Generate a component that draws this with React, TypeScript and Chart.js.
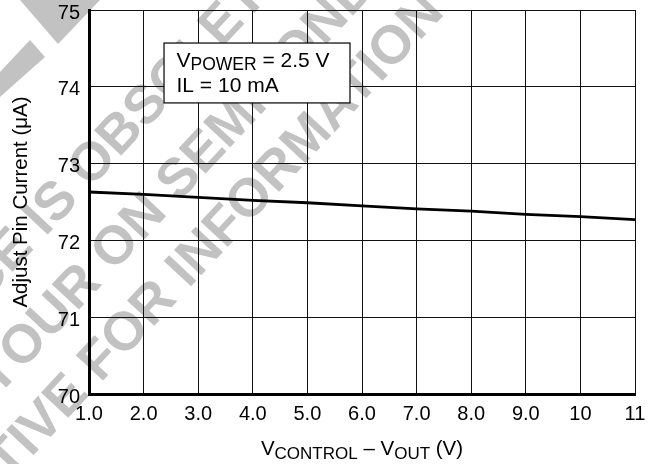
import React, { useEffect, useRef } from "react";
import { Chart, registerables } from "chart.js";

Chart.register(...registerables);

// ---- data ----
const xValues = [1, 2, 3, 4, 5, 6, 7, 8, 9, 10, 11];
const currentValues = [72.63, 72.6, 72.56, 72.52, 72.49, 72.45, 72.41, 72.38, 72.34, 72.31, 72.27];
const xTickLabels = ["1.0", "2.0", "3.0", "4.0", "5.0", "6.0", "7.0", "8.0", "9.0", "10", "11"];
const yTickLabels = ["70", "71", "72", "73", "74", "75"];
const yAxisTitle = "Adjust Pin Current (\u03bcA)";
const xTitleParts = [
  { t: "V", sub: false },
  { t: "CONTROL", sub: true },
  { t: " \u2013 V", sub: false },
  { t: "OUT", sub: true },
  { t: " (V)", sub: false },
];
const noteLine1 = [
  { t: "V", sub: false },
  { t: "POWER", sub: true },
  { t: " = 2.5 V", sub: false },
];
const noteLine2 = [{ t: "IL = 10 mA", sub: false }];
const watermarkLines = [
  "THIS DEVICE IS OBSOLETE",
  "PLEASE CONTACT YOUR ON SEMICONDUCTOR",
  "REPRESENTATIVE FOR INFORMATION",
];

const FAMILY = '"Liberation Sans", Arial, Helvetica, sans-serif';

type Part = { t: string; sub: boolean };

function drawParts(ctx: CanvasRenderingContext2D, parts: Part[], x: number, y: number, main: number, sub: number, align: "left" | "center") {
  let total = 0;
  const widths = parts.map((p) => {
    ctx.font = `${p.sub ? sub : main}px ${FAMILY}`;
    const w = ctx.measureText(p.t).width;
    total += w;
    return w;
  });
  let cx = align === "center" ? x - total / 2 : x;
  ctx.textAlign = "left";
  ctx.textBaseline = "alphabetic";
  parts.forEach((p, i) => {
    ctx.font = `${p.sub ? sub : main}px ${FAMILY}`;
    ctx.fillText(p.t, cx, p.sub ? y + 3.5 : y);
    cx += widths[i];
  });
}

const watermarkPlugin = {
  id: "watermark",
  beforeDraw(chart: any) {
    const ctx: CanvasRenderingContext2D = chart.ctx;
    ctx.save();
    ctx.fillStyle = "#c2c2c2";
    // corner fragments
    ctx.beginPath();
    ctx.moveTo(20, 0);
    ctx.lineTo(100, 0);
    ctx.lineTo(58, 44);
    ctx.closePath();
    ctx.fill();
    ctx.beginPath();
    ctx.moveTo(30, 40);
    ctx.lineTo(45, 57);
    ctx.lineTo(0, 97);
    ctx.lineTo(0, 72);
    ctx.closePath();
    ctx.fill();

    ctx.font = `bold 54px ${FAMILY}`;
    ctx.textBaseline = "middle";
    ctx.textAlign = "left";
    ctx.translate(130, 233);
    ctx.rotate((-47 * Math.PI) / 180);
    const specs = [
      { line: 0, prefix: "THIS DEVICE I", word: "S", s: -28, t: -74 },
      { line: 1, prefix: "PLEASE CONTACT YOUR ", word: "ON", s: 0, t: 0 },
      { line: 2, prefix: "REPRESENTATIVE ", word: "FOR", s: -73, t: 66 },
    ];
    specs.forEach((sp) => {
      const start = sp.s - ctx.measureText(sp.prefix).width - ctx.measureText(sp.word).width / 2;
      ctx.fillText(watermarkLines[sp.line], start, sp.t);
    });
    ctx.restore();
  },
};

const annotationPlugin = {
  id: "annotations",
  afterDraw(chart: any) {
    const ctx: CanvasRenderingContext2D = chart.ctx;
    const xs = chart.scales.x;
    const ys = chart.scales.y;
    const area = chart.chartArea;
    ctx.save();
    // note box
    const bx1 = xs.getPixelForValue(2.374);
    const bx2 = xs.getPixelForValue(5.78);
    const by1 = ys.getPixelForValue(74.57);
    const by2 = ys.getPixelForValue(73.79);
    ctx.fillStyle = "#ffffff";
    ctx.fillRect(bx1, by1, bx2 - bx1, by2 - by1);
    ctx.strokeStyle = "#000";
    ctx.lineWidth = 1.2;
    ctx.strokeRect(bx1, by1, bx2 - bx1, by2 - by1);
    ctx.fillStyle = "#000";
    drawParts(ctx, noteLine1, bx1 + 12.5, by1 + 23.5, 21, 17.5, "left");
    drawParts(ctx, noteLine2, bx1 + 12.5, by1 + 48.5, 21, 17.5, "left");
    // x axis title
    drawParts(ctx, xTitleParts, (area.left + area.right) / 2, area.bottom + 61, 20.5, 17, "center");
    ctx.restore();
  },
};

export default function App() {
  const ref = useRef<HTMLCanvasElement | null>(null);
  useEffect(() => {
    if (!ref.current) return;
    Chart.defaults.font.family = FAMILY;
    const chart = new Chart(ref.current, {
      type: "line",
      data: {
        datasets: [
          {
            data: xValues.map((x, i) => ({ x, y: currentValues[i] })),
            borderColor: "#000",
            borderWidth: 2.8,
            pointRadius: 0,
            tension: 0,
            fill: false,
          },
        ],
      },
      options: {
        animation: false,
        responsive: true,
        maintainAspectRatio: false,
        layout: { padding: { top: 10, right: 23, left: 0, bottom: 0 } },
        plugins: { legend: { display: false }, tooltip: { enabled: false } },
        scales: {
          x: {
            type: "linear",
            min: 1,
            max: 11,
            afterFit: (s: any) => {
              s.height = 70;
              s.paddingLeft = 0;
              s.paddingRight = 0;
            },
            ticks: {
              stepSize: 1,
              autoSkip: false,
              maxRotation: 0,
              padding: 8,
              color: "#000",
              font: { size: 20 },
              callback: (_v: any, i: number) => xTickLabels[i],
            },
            grid: { color: "#111", lineWidth: 1, drawTicks: false },
            border: { color: "#000", width: 3 },
          },
          y: {
            min: 70,
            max: 75,
            afterFit: (s: any) => {
              s.width = 89;
              s.paddingTop = 0;
              s.paddingBottom = 0;
            },
            ticks: {
              stepSize: 1,
              padding: 9,
              labelOffset: 3,
              color: "#000",
              font: { size: 20 },
              callback: (_v: any, i: number) => yTickLabels[i],
            },
            grid: { color: "#111", lineWidth: 1, drawTicks: false },
            border: { color: "#000", width: 3 },
            title: {
              display: true,
              text: yAxisTitle,
              color: "#000",
              font: { size: 20.5 },
              padding: { top: 9, bottom: 0 },
            },
          },
        },
      },
      plugins: [watermarkPlugin, annotationPlugin],
    } as any);
    return () => chart.destroy();
  }, []);
  return (
    <div style={{ position: "absolute", left: 0, top: 0, width: 658, height: 464, background: "#fff" }}>
      <canvas ref={ref} />
    </div>
  );
}
